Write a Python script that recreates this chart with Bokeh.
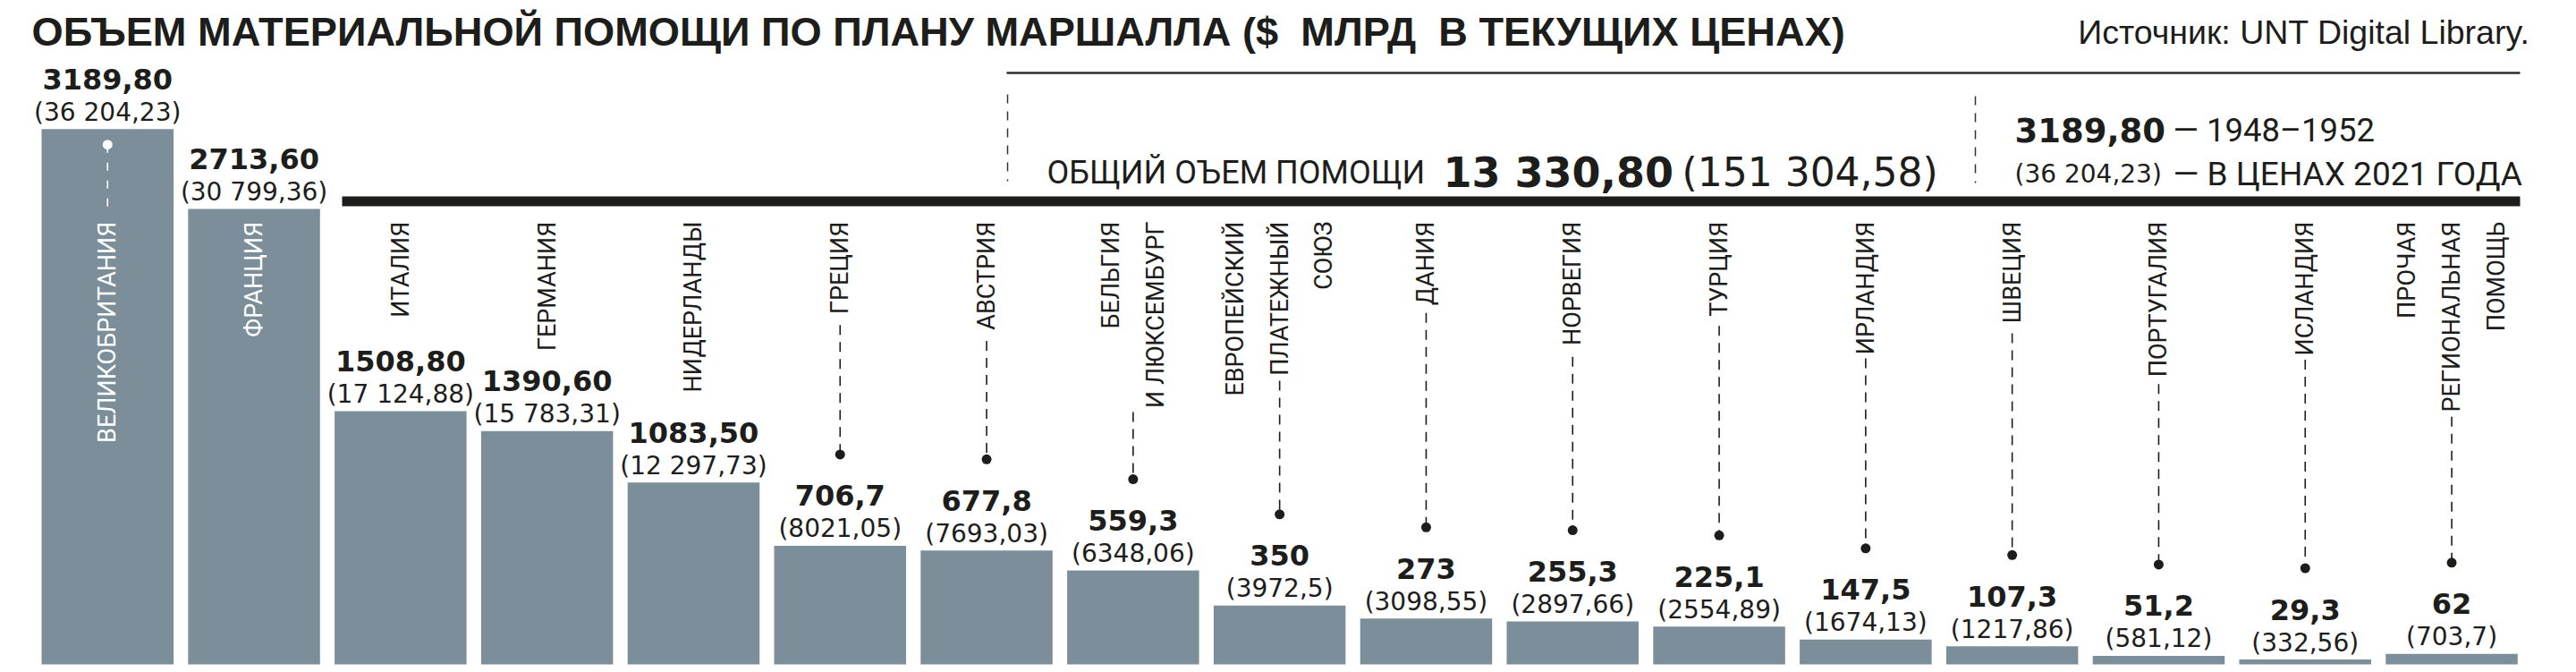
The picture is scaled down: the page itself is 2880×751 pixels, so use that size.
import math
from bokeh.plotting import figure
from bokeh.models import Range1d
from bokeh.core.properties import value
from bokeh.embed import file_html
from bokeh.resources import INLINE

# ---------------- data ----------------
countries = ["ВЕЛИКОБРИТАНИЯ", "ФРАНЦИЯ", "ИТАЛИЯ", "ГЕРМАНИЯ", "НИДЕРЛАНДЫ", "ГРЕЦИЯ", "АВСТРИЯ",
             "БЕЛЬГИЯ\nИ ЛЮКСЕМБУРГ", "ЕВРОПЕЙСКИЙ\nПЛАТЕЖНЫЙ\nСОЮЗ", "ДАНИЯ", "НОРВЕГИЯ", "ТУРЦИЯ",
             "ИРЛАНДИЯ", "ШВЕЦИЯ", "ПОРТУГАЛИЯ", "ИСЛАНДИЯ", "ПРОЧАЯ\nРЕГИОНАЛЬНАЯ\nПОМОЩЬ"]
aid_1948_52 = [3189.80, 2713.60, 1508.80, 1390.60, 1083.50, 706.7, 677.8, 559.3, 350.0,
               273.0, 255.3, 225.1, 147.5, 107.3, 51.2, 29.3, 62.0]
aid_labels = ["3189,80", "2713,60", "1508,80", "1390,60", "1083,50", "706,7", "677,8", "559,3", "350",
              "273", "255,3", "225,1", "147,5", "107,3", "51,2", "29,3", "62"]
aid_2021_labels = ["(36 204,23)", "(30 799,36)", "(17 124,88)", "(15 783,31)", "(12 297,73)", "(8021,05)",
                   "(7693,03)", "(6348,06)", "(3972,5)", "(3098,55)", "(2897,66)", "(2554,89)",
                   "(1674,13)", "(1217,86)", "(581,12)", "(332,56)", "(703,7)"]
title_text = "ОБЪЕМ МАТЕРИАЛЬНОЙ ПОМОЩИ ПО ПЛАНУ МАРШАЛЛА ($\u00a0 МЛРД\u00a0 В ТЕКУЩИХ ЦЕНАХ)"
source_text = "Источник: UNT Digital Library."
total_caption = "ОБЩИЙ ОЪЕМ ПОМОЩИ"
total_value = "13 330,80"
total_2021 = "(151 304,58)"
legend_value = "3189,80"
legend_value_2021 = "(36 204,23)"
legend_line1 = "— 1948–1952"
legend_line2 = "— В ЦЕНАХ 2021 ГОДА"

# ---------------- layout ----------------
W, H = 2872, 743
PITCH = 163.8      # px between bar centres
X0 = 119.75        # px of first bar centre inside the figure
BASE = 742.0       # px of value 0 inside the figure
K = 0.18757        # px per unit of value
BAR = "#7b8e99"
INK = "#1d1d1b"
COND = "Roboto"

def px(xp):  # page px -> data x
    return (xp - 8 - X0) / PITCH

def py(yp):  # page px -> data y
    return (BASE - (yp - 8)) / K

def dy(d):
    return d / K

p = figure(width=W, height=H, output_backend="svg", toolbar_location=None,
           x_range=Range1d(-X0 / PITCH, (W - X0) / PITCH),
           y_range=Range1d((BASE - H) / K, BASE / K),
           x_axis_location=None, y_axis_location=None, min_border=0,
           outline_line_color=None, background_fill_color="white", border_fill_color="white")
p.grid.visible = False

idx = list(range(len(countries)))
p.vbar(x=idx, top=aid_1948_52, bottom=0, width=147.5 / PITCH, fill_color=BAR, line_color=None)

# value labels
p.text(x=idx, y=[v + dy(56) for v in aid_1948_52], text=aid_labels, text_align="center",
       text_baseline="alphabetic", text_font=value("DejaVu Sans"), text_font_style="bold",
       text_font_size="32px", text_color=INK)
p.text(x=idx, y=[v + dy(19) for v in aid_1948_52], text=aid_2021_labels, text_align="center",
       text_baseline="alphabetic", text_font=value("DejaVu Sans"), text_font_size="28px",
       text_color=INK)

# category labels (rotated)
LABEL_TOP = 255
LABEL_SIZE = 27
WF = 0.92
AW = {"А": .667, "Б": .656, "В": .667, "Г": .542, "Д": .688, "Е": .667, "Ж": .923, "З": .604,
      "И": .719, "Й": .719, "К": .583, "Л": .656, "М": .833, "Н": .719, "О": .778, "П": .719,
      "Р": .667, "С": .722, "Т": .611, "У": .635, "Ф": .760, "Х": .667, "Ц": .740, "Ч": .667,
      "Ш": .917, "Щ": .938, "Ъ": .792, "Ы": .885, "Ь": .656, "Э": .719, "Ю": 1.010, "Я": .722, " ": .278}

def tlen(s):
    return sum(AW.get(c, .6) for c in s) * WF * LABEL_SIZE

label_colors = []
dash_x, dash_y0, dash_y1, dot_x, dot_y = [], [], [], [], []
w_dash_x, w_dash_y0, w_dash_y1, w_dot_x, w_dot_y = [], [], [], [], []
for i, (lab, v) in enumerate(zip(countries, aid_1948_52)):
    top_page = 750 - v * K
    inside = top_page < LABEL_TOP
    label_colors.append("white" if inside else INK)
    if inside:
        dpage = top_page + 17.5
        if (LABEL_TOP - 8) - dpage > 30:
            w_dot_x.append(i); w_dot_y.append(v - dy(17.5))
            w_dash_x.append(i); w_dash_y0.append(v - dy(17.5)); w_dash_y1.append(py(LABEL_TOP - 7))
    else:
        lines = lab.split("\n")
        n = len(lines)
        if n % 2:
            L = tlen(lines[n // 2])
        else:
            L = max(tlen(lines[n // 2 - 1]), tlen(lines[n // 2]))
        start_page = LABEL_TOP + L + 15
        dot_page = top_page - 102
        if dot_page - start_page > 30:
            dash_x.append(i); dash_y0.append(py(start_page)); dash_y1.append(v + dy(102))
            dot_x.append(i); dot_y.append(v + dy(102))

p.text(x=idx, y=[py(LABEL_TOP)] * len(idx), text=countries, angle=math.pi / 2,
       text_align="right", text_baseline="middle", text_font=value(COND),
       text_font_size=f"{LABEL_SIZE}px", text_color=label_colors, text_line_height=1.55)

p.segment(x0=dash_x, y0=dash_y0, x1=dash_x, y1=dash_y1, line_color=INK, line_width=1.6,
          line_dash="11 8")
p.scatter(x=dot_x, y=dot_y, size=11, fill_color=INK, line_color=None)
p.segment(x0=w_dash_x, y0=w_dash_y0, x1=w_dash_x, y1=w_dash_y1, line_color="white",
          line_width=1.6, line_dash="9 11")
p.scatter(x=w_dot_x, y=w_dot_y, size=11, fill_color="white", line_color=None)

# ---------------- header ----------------
p.text(x=[px(43)], y=[py(43)], text=[title_text], text_align="left", text_baseline="alphabetic",
       text_font=value("Liberation Sans"), text_font_style="bold", text_font_size="45.2px",
       text_color=INK)
p.text(x=[px(2836)], y=[py(43)], text=[source_text], text_align="right", text_baseline="alphabetic",
       text_font=value("Liberation Sans"), text_font_size="37.5px", text_color=INK)

# rules
p.segment(x0=[px(1133)], y0=[py(89)], x1=[px(2825)], y1=[py(89)], line_color="#2b2b2b",
          line_width=2.5)
p.segment(x0=[px(390)], y0=[py(232.5)], x1=[px(2825)], y1=[py(232.5)], line_color=INK,
          line_width=11, line_cap="butt")
p.segment(x0=[px(1134), px(2216)], y0=[py(113), py(115)], x1=[px(1134), px(2216)],
          y1=[py(210), py(212)], line_color="#333333", line_width=1.5, line_dash="10 9")

# total
p.text(x=[px(1178)], y=[py(200)], text=[total_caption], text_align="left", text_baseline="alphabetic",
       text_font=value(COND), text_font_size="36px", text_color=INK)
p.text(x=[px(1621)], y=[py(200)], text=[total_value], text_align="left", text_baseline="alphabetic",
       text_font=value("DejaVu Sans"), text_font_style="bold", text_font_size="46px", text_color=INK)
p.text(x=[px(1888)], y=[py(200)], text=[total_2021], text_align="left", text_baseline="alphabetic",
       text_font=value("DejaVu Sans"), text_font_size="44px", text_color=INK)

# legend
p.text(x=[px(2260)], y=[py(153)], text=[legend_value], text_align="left", text_baseline="alphabetic",
       text_font=value("DejaVu Sans"), text_font_style="bold", text_font_size="37px", text_color=INK)
p.text(x=[px(2260)], y=[py(202)], text=[legend_value_2021], text_align="left",
       text_baseline="alphabetic", text_font=value("DejaVu Sans"), text_font_size="28px",
       text_color=INK)
p.text(x=[px(2437)], y=[py(153)], text=[legend_line1], text_align="left", text_baseline="alphabetic",
       text_font=value(COND), text_font_size="36.5px", text_color=INK)
p.text(x=[px(2437)], y=[py(202)], text=[legend_line2], text_align="left", text_baseline="alphabetic",
       text_font=value(COND), text_font_size="37px", text_color=INK)

open("out.html", "w").write(file_html(p, INLINE))
